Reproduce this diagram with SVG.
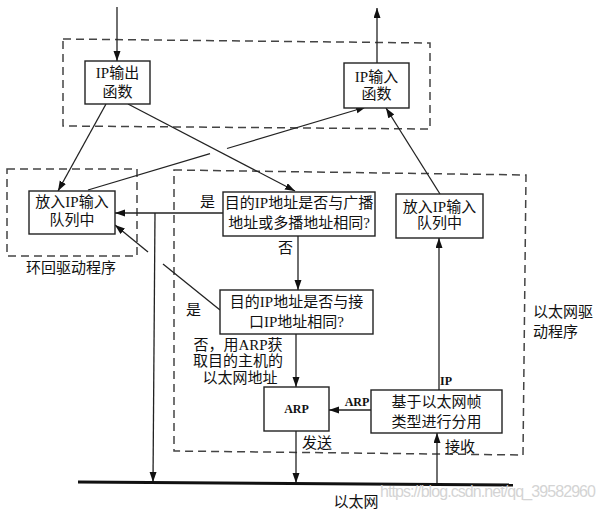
<svg xmlns="http://www.w3.org/2000/svg" width="606" height="511" viewBox="0 0 606 511">
<defs>
<marker id="ah" markerUnits="userSpaceOnUse" markerWidth="11" markerHeight="8" refX="10" refY="3.5" orient="auto">
<path d="M0,0 L10,3.5 L0,7 z" fill="#111"/>
</marker>
<style>
.box{fill:#fff;stroke:#222;stroke-width:1.4}
.dash{fill:none;stroke:#444;stroke-width:1.5;stroke-dasharray:8,5}
.ln{fill:none;stroke:#222;stroke-width:1.3}
.arr{fill:none;stroke:#222;stroke-width:1.3;marker-end:url(#ah)}
.t{font-family:"Liberation Serif","Noto Sans CJK SC",serif;font-size:15px;fill:#111}
.c{text-anchor:middle}
.b{font-weight:bold;font-size:12px}
.wm{font-family:"Liberation Sans",Arial,sans-serif;font-size:16px;fill:#d4d4d4}
</style>
</defs>
<rect width="606" height="511" fill="#fff"/>

<g id="groups">
<path class="dash" d="M63,39 L430,43 L430,129 L63,126 Z"/>
<rect class="dash" x="7" y="169" width="130" height="87"/>
<path class="dash" d="M174,170 L526,175 L523,455 L174,451 Z"/>
<text class="t" x="26" y="273">环回驱动程序</text>
<text class="t" x="533" y="317">以太网驱</text>
<text class="t" x="533" y="337">动程序</text>
</g>

<g id="connectors">
<line class="arr" x1="117" y1="7" x2="117" y2="61"/>
<line class="arr" x1="377" y1="63" x2="377" y2="8"/>
<line class="arr" x1="106" y1="104" x2="58" y2="191"/>
<line class="arr" x1="128" y1="104" x2="295" y2="191"/>
<line class="ln" x1="88" y1="190" x2="210" y2="153.6"/>
<line class="arr" x1="227" y1="148.5" x2="366" y2="107"/>
<line class="arr" x1="440" y1="194" x2="386" y2="108"/>
<line class="arr" x1="223" y1="213" x2="115" y2="213"/>
<line class="arr" x1="155" y1="213" x2="153" y2="482"/>
<line class="ln" x1="220" y1="310" x2="163" y2="264"/>
<line class="arr" x1="148" y1="252" x2="115" y2="225"/>
<line class="arr" x1="298" y1="236" x2="298" y2="290"/>
<line class="arr" x1="296" y1="334" x2="296" y2="387"/>
<line class="arr" x1="296" y1="431" x2="296" y2="483"/>
<line class="arr" x1="371" y1="410" x2="329" y2="410"/>
<line class="arr" x1="439" y1="390" x2="439" y2="238"/>
<line class="arr" x1="437" y1="485" x2="437" y2="433"/>
<text class="t" x="200" y="207">是</text>
<text class="t" x="186" y="315">是</text>
<text class="t" x="278" y="253">否</text>
<text class="t c" x="238" y="350">否，用ARP获</text>
<text class="t c" x="238" y="366">取目的主机的</text>
<text class="t c" x="240" y="383">以太网地址</text>
<text class="t b c" x="357" y="406">ARP</text>
<text class="t b c" x="446" y="385">IP</text>
<text class="t" x="302" y="448">发送</text>
<text class="t" x="445" y="452">接收</text>
</g>

<g id="ethernet">
<line x1="78" y1="482" x2="513" y2="485" stroke="#111" stroke-width="3"/>
<text class="t c" x="356" y="507">以太网</text>
</g>

<g id="ip_output">
<rect class="box" x="85" y="61" width="65" height="43"/>
<text class="t c" x="117.5" y="78">IP输出</text>
<text class="t c" x="117.5" y="97">函数</text>
</g>

<g id="ip_input">
<rect class="box" x="344" y="63" width="65" height="45"/>
<text class="t c" x="376.5" y="82">IP输入</text>
<text class="t c" x="376.5" y="99">函数</text>
</g>

<g id="loop_queue">
<rect class="box" x="29" y="191" width="86" height="43"/>
<text class="t c" x="72" y="207">放入IP输入</text>
<text class="t c" x="72" y="225">队列中</text>
</g>

<g id="check_bcast">
<rect class="box" x="223" y="192" width="152" height="44"/>
<text class="t c" x="299" y="208">目的IP地址是否与广播</text>
<text class="t c" x="299" y="228">地址或多播地址相同?</text>
</g>

<g id="check_iface">
<rect class="box" x="220" y="290" width="153" height="44"/>
<text class="t c" x="296.5" y="307">目的IP地址是否与接</text>
<text class="t c" x="296.5" y="327">口IP地址相同?</text>
</g>

<g id="eth_queue">
<rect class="box" x="396" y="194" width="87" height="44"/>
<text class="t c" x="439.5" y="212">放入IP输入</text>
<text class="t c" x="439.5" y="228">队列中</text>
</g>

<g id="arp">
<rect class="box" x="264" y="387" width="65" height="44"/>
<text class="t b c" x="296.5" y="413">ARP</text>
</g>

<g id="demux">
<rect class="box" x="371" y="390" width="131" height="43"/>
<text class="t c" x="436.5" y="407">基于以太网帧</text>
<text class="t c" x="436.5" y="427">类型进行分用</text>
</g>

<text class="wm" x="380" y="497" textLength="216">https://blog.csdn.net/qq_39582960</text>
</svg>
